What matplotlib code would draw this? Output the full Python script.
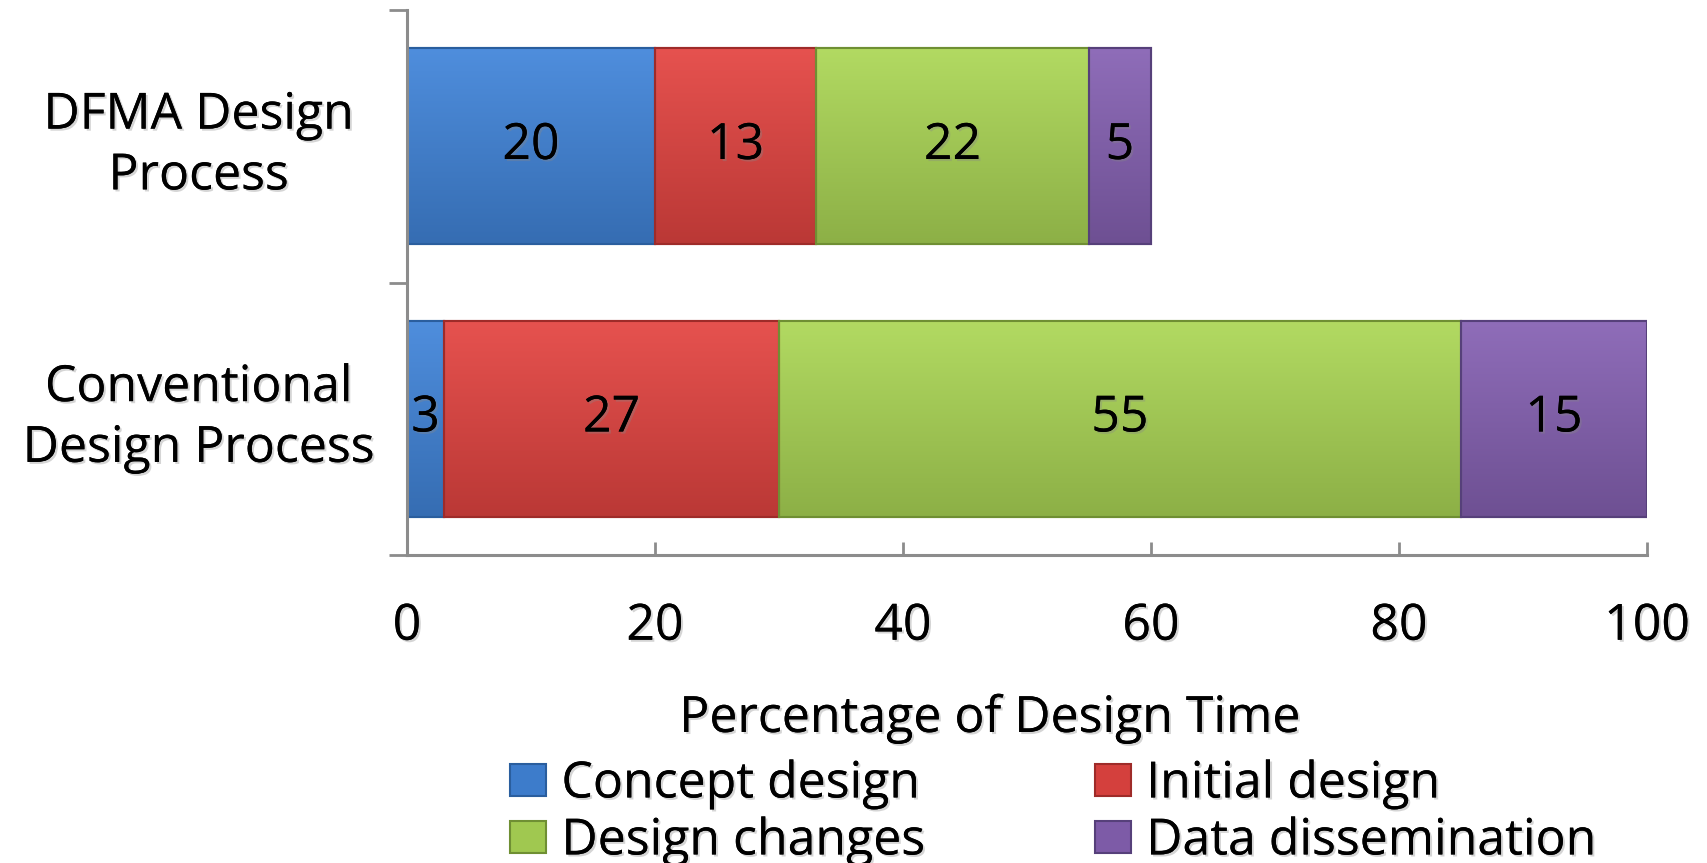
import matplotlib
matplotlib.use("Agg")
import matplotlib.pyplot as plt
import matplotlib.patheffects as pe
import matplotlib.colors as mcolors
from matplotlib.patches import Rectangle
import numpy as np

categories = ["Conventional\nDesign Process", "DFMA Design\nProcess"]
series_names = ["Concept design", "Initial design", "Design changes", "Data dissemination"]
concept = [3, 20]
initial = [27, 13]
changes = [55, 22]
dissemination = [15, 5]
series_values = [concept, initial, changes, dissemination]
colors = ["#3D7CCB", "#D4403D", "#A0C850", "#7D5BA7"]
edges = ["#2A5E9E", "#9E2B29", "#6F8F33", "#56407A"]
x_ticks = [0, 20, 40, 60, 80, 100]

plt.rcParams['font.family'] = ['Open Sans', 'DejaVu Sans']
FS = 36
shadow = [pe.withSimplePatchShadow(offset=(1.5, -1.5), shadow_rgbFace='#888888', alpha=0.35), pe.Normal()]

fig = plt.figure(figsize=(17.07, 8.63), dpi=100)
ax = fig.add_axes([0.2384, 0.3569, 0.7264, 0.6315])
ax.set_xlim(0, 100)
ax.set_ylim(-0.5, 1.5)

ypos = np.arange(len(categories))
left = np.zeros(len(categories))
handles = []
for name, vals, c, ec in zip(series_names, series_values, colors, edges):
    bars = ax.barh(ypos, vals, left=left, height=0.72, color=c, edgecolor=ec,
                   linewidth=1.5, label=name, zorder=2)
    base = np.array(mcolors.to_rgb(c))
    for rect in bars.patches:
        x0, y0 = rect.get_x(), rect.get_y()
        w, h = rect.get_width(), rect.get_height()
        t = np.linspace(0, 1, 64)[:, None]   # 0 = bottom, 1 = top
        light = np.clip(base + 0.07, 0, 1)
        dark = base * 0.88
        grad = dark[None, :] * (1 - t) + light[None, :] * t
        img = np.repeat(grad[:, None, :], 2, axis=1)
        im = ax.imshow(img, extent=(x0, x0 + w, y0, y0 + h), origin='lower',
                       aspect='auto', zorder=2.5, interpolation='bilinear')
        im.set_clip_path(rect)
        ax.add_patch(Rectangle((x0, y0), w, h, fill=False, edgecolor=ec,
                               linewidth=1.5, zorder=3))
    labs = ax.bar_label(bars, labels=[str(v) for v in vals], label_type='center',
                        fontsize=FS, color='black', zorder=4)
    for tx in labs:
        tx.set_path_effects(shadow)
    handles.append(bars)
    left = left + np.array(vals)

ax.set_xlim(0, 100)
ax.set_ylim(-0.5, 1.5)
for s in ['top', 'right']:
    ax.spines[s].set_visible(False)
for s in ['left', 'bottom']:
    ax.spines[s].set_color('#8C8C8C')
    ax.spines[s].set_linewidth(2.2)
    ax.spines[s].set_zorder(5)

ax.set_xticks(x_ticks)
ax.set_xticklabels([str(v) for v in x_ticks], fontsize=FS)
ax.tick_params(axis='x', direction='in', length=9.5, width=2, color='#8C8C8C', pad=34)

ax.set_yticks(ypos)
ax.set_yticklabels(categories, fontsize=FS)
ax.set_yticks([-0.5, 0.5, 1.5], minor=True)
ax.tick_params(axis='y', which='major', length=0, pad=150)
ax.tick_params(axis='y', which='minor', direction='out', length=13, width=2, color='#8C8C8C')
for tx in ax.get_yticklabels():
    tx.set_ha('center')
    tx.set_va('center')
    tx.set_multialignment('center')
    tx.set_linespacing(1.3)
    tx.set_path_effects(shadow)
for tx in ax.get_xticklabels():
    tx.set_path_effects(shadow)

xl = ax.set_xlabel("Percentage of Design Time", fontsize=FS)
ax.xaxis.set_label_coords(0.47, -0.255)
xl.set_path_effects(shadow)

order = [0, 2, 1, 3]
leg = fig.legend(handles=[handles[i] for i in order], labels=[series_names[i] for i in order],
                 loc='center', bbox_to_anchor=(0.617, 0.058), ncol=2, frameon=False, fontsize=FS,
                 handlelength=0.72, handleheight=0.6, handletextpad=0.3,
                 columnspacing=3.4, labelspacing=0.15, borderaxespad=0)
for tx in leg.get_texts():
    tx.set_path_effects(shadow)

fig.savefig("out.png", dpi=100)
